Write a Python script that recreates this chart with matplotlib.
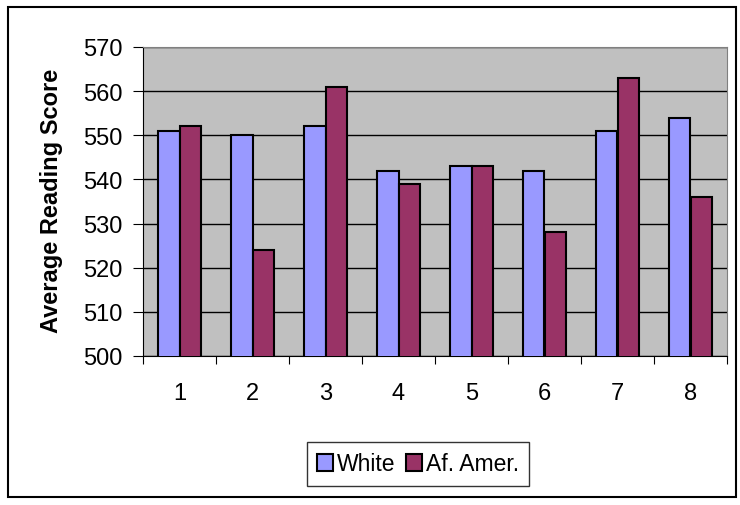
import matplotlib.pyplot as plt
import numpy as np
from matplotlib.patches import Rectangle

plt.rcParams['font.family'] = ['Liberation Sans', 'DejaVu Sans']

categories = ['1', '2', '3', '4', '5', '6', '7', '8']
white = [551, 550, 552, 542, 543, 542, 551, 554]
af_amer = [552, 524, 561, 539, 543, 528, 563, 536]

W, H = 740, 506
fig = plt.figure(figsize=(W / 100, H / 100), dpi=100)
ax = fig.add_axes([143 / W, 1 - 357 / H, (727 - 143) / W, (357 - 48) / H])
ax.set_facecolor('#C0C0C0')

x = np.arange(len(categories))
w = 0.3
ax.bar(x - w / 2, white, w, bottom=0, color='#9999FF', edgecolor='black', linewidth=1.5, label='White', zorder=3)
ax.bar(x + w / 2, af_amer, w, bottom=0, color='#993366', edgecolor='black', linewidth=1.5, label='Af. Amer.', zorder=3)

ax.set_ylim(500, 570)
ax.set_xlim(-0.5, len(categories) - 0.5)
ax.set_yticks(range(500, 571, 10))
ax.yaxis.grid(True, color='black', linewidth=1, zorder=1)
ax.set_axisbelow(True)

# ticks between categories, labels at centres
ax.set_xticks(np.arange(-0.5, len(categories), 1))
ax.set_xticklabels([])
ax.set_xticks(x, minor=True)
ax.set_xticklabels(categories, minor=True)
ax.tick_params(axis='x', which='major', length=6, direction='out', color='black')
ax.tick_params(axis='x', which='minor', length=0, pad=19, labelsize=17)
ax.tick_params(axis='y', length=7, direction='out', pad=8, labelsize=17)

for s in ['top', 'right']:
    ax.spines[s].set_color('#808080')
for s in ['left', 'bottom']:
    ax.spines[s].set_color('black')

fig.text(52 / W, 1 - 201 / H, 'Average Reading Score', rotation=90, fontsize=17,
         fontweight='bold', ha='center', va='center')

leg = fig.legend(loc='center', bbox_to_anchor=(418 / W, 1 - 465 / H), ncol=2, fontsize=16.5,
                 frameon=True, fancybox=False, edgecolor='black', handlelength=0.7,
                 handleheight=0.7, handletextpad=0.15, columnspacing=0.5, borderpad=0.45,
                 borderaxespad=0)
leg.get_frame().set_linewidth(1)

fig.patches.append(Rectangle((8 / W, 8 / H), 728 / W, 490 / H, transform=fig.transFigure,
                             fill=False, edgecolor='black', linewidth=1.5))

fig.savefig('out.png', dpi=100)
